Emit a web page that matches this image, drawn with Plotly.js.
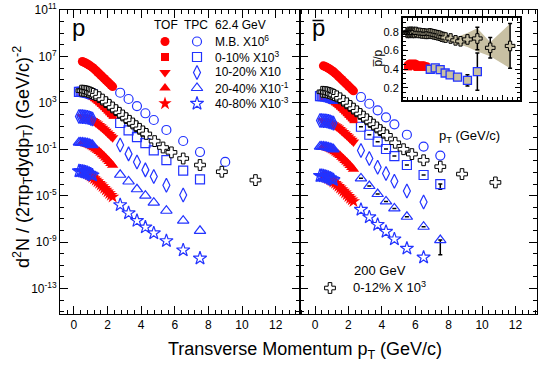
<!DOCTYPE html>
<html><head><meta charset="utf-8">
<script src="https://cdn.plot.ly/plotly-3.0.1.min.js"></script>
<style>html,body{margin:0;padding:0;background:#fff}#chart{width:540px;height:368px}</style>
</head><body><div id="chart"></div>
<script>
// ---------------- DATA (log10 of yields) ----------------
const pTtof  = [0.5,0.6,0.7,0.8,0.9,1.0,1.1,1.2,1.3,1.4,1.5,1.6,1.7,1.8,1.9,2.0,2.1,2.2,2.3];
const pTlow  = [0.3,0.4,0.5,0.6,0.7,0.8,0.9,1.0,1.1];
const pTtpc  = [2.75,3.25,3.75,4.25,4.75,5.5,6.5,7.5,9.0];
const pT200  = [0.45,0.55,0.65,0.75,0.85,0.95,1.05,1.15,1.3,1.5,1.7,1.9,2.1,2.3,2.5,2.7,2.9,3.1,3.3,3.5,3.7,3.9,4.1,4.3,4.8,5.3,5.8,6.5,7.5,8.8,10.8];

const centralities = ['M.B.','0-10%','10-20%','20-40%','40-80%'];
const scaleLabels  = ['X10<sup>6</sup>','X10<sup>3</sup>','X10','X10<sup>-1</sup>','X10<sup>-3</sup>'];

// proton, 62.4 GeV
const p_MB_tof  = [6.56,6.50,6.43,6.35,6.26,6.16,6.05,5.93,5.80,5.66,5.52,5.38,5.24,5.10,4.96,4.82,4.68,4.54,4.40];
const p_MB_tpc  = [3.87,3.33,2.72,2.10,1.52,0.66,-0.29,-1.24,-2.09];
const p_C0_tof  = [3.93,3.91,3.87,3.82,3.75,3.67,3.58,3.48,3.37,3.25,3.12,2.99,2.85,2.71,2.56,2.41,2.26,2.11,1.96];
const p_C0_low  = [3.95,3.95,3.94,3.92,3.90,3.87,3.83,3.78,3.72];
const p_C0_tpc  = [1.26,0.62,0.05,-0.47,-1.10,-1.93,-2.85,-3.60];
const p_C10_tof = [1.80,1.77,1.73,1.68,1.62,1.55,1.47,1.38,1.28,1.17,1.05,0.93,0.80,0.67,0.54,0.41,0.27,0.13,0.00];
const p_C10_low = [1.82,1.82,1.81,1.80,1.78,1.75,1.71,1.66,1.60];
const p_C10_tpc = [-0.64,-1.40,-2.10,-2.78,-3.35,-4.10,-4.95];
const p_C20_tof = [-0.45,-0.48,-0.52,-0.57,-0.63,-0.70,-0.78,-0.87,-0.97,-1.08,-1.20,-1.33,-1.47,-1.61,-1.76,-1.91,-2.06,-2.22,-2.38];
const p_C20_low = [-0.42,-0.42,-0.43,-0.45,-0.47,-0.50,-0.54,-0.59,-0.65];
const p_C20_tpc = [-3.20,-3.78,-4.45,-5.00,-5.60,-6.30,-7.16,-8.03];
const p_C40_tof = [-2.90,-2.95,-3.02,-3.10,-3.19,-3.29,-3.40,-3.52,-3.65,-3.78,-3.92,-4.06,-4.20,-4.35,-4.50,-4.65,-4.80,-4.95,-5.10];
const p_C40_low = [-2.88,-2.89,-2.91,-2.94,-2.98,-3.03,-3.09,-3.16,-3.24];
const p_C40_tpc = [-5.80,-6.50,-7.16,-7.72,-8.23,-8.90,-9.70,-10.40];

// antiproton, 62.4 GeV
const pb_MB_tof  = [6.19,6.13,6.06,5.98,5.89,5.79,5.68,5.56,5.43,5.29,5.15,5.01,4.87,4.73,4.59,4.45,4.31,4.17,4.03];
const pb_MB_tpc  = [3.50,2.92,2.35,1.75,1.15,0.25,-0.77,-1.55];
const pb_C0_tof  = [3.56,3.54,3.50,3.45,3.38,3.30,3.21,3.11,3.00,2.88,2.75,2.62,2.48,2.34,2.19,2.04,1.89,1.74,1.59];
const pb_C0_low  = [3.58,3.58,3.57,3.55,3.53,3.50,3.46,3.41,3.35];
const pb_C0_tpc  = [0.94,0.25,-0.35,-0.98,-1.59,-2.36,-3.22,-4.00];
const pb_C0_lo   = [null,null,null,null,null,null,null,-4.45];
const pb_C10_tof = [1.45,1.42,1.38,1.33,1.27,1.20,1.12,1.03,0.93,0.82,0.70,0.58,0.45,0.32,0.19,0.05,-0.09,-0.23,-0.37];
const pb_C10_low = [1.47,1.47,1.46,1.45,1.43,1.40,1.36,1.31,1.25];
const pb_C10_tpc = [-1.10,-1.80,-2.55,-3.10,-3.75,-4.60,-5.55];
const pb_C20_tof = [-0.80,-0.83,-0.87,-0.92,-0.98,-1.05,-1.13,-1.22,-1.32,-1.43,-1.55,-1.68,-1.82,-1.96,-2.11,-2.26,-2.41,-2.57,-2.73];
const pb_C20_low = [-0.77,-0.77,-0.78,-0.80,-0.82,-0.85,-0.89,-0.94,-1.00];
const pb_C20_tpc = [-3.51,-4.17,-4.86,-5.50,-6.10,-6.82,-7.68,-8.83];
const pb_C20_lo  = [null,null,null,null,null,null,null,-10.1];
const pb_C40_tof = [-3.30,-3.35,-3.42,-3.50,-3.59,-3.69,-3.80,-3.92,-4.05,-4.18,-4.32,-4.46,-4.60,-4.75,-4.90,-5.05,-5.20,-5.35,-5.50];
const pb_C40_low = [-3.28,-3.29,-3.31,-3.34,-3.38,-3.43,-3.49,-3.56,-3.64];
const pb_C40_tpc = [-6.20,-6.85,-7.50,-8.10,-8.75,-9.55,-10.32];

// 200 GeV 0-12% X10^3
const p200  = [4.05,4.04,4.02,3.99,3.95,3.90,3.84,3.77,3.66,3.49,3.28,3.06,2.83,2.60,2.37,2.14,1.91,1.68,1.45,1.22,0.99,0.76,0.54,0.32,-0.30,-0.85,-1.27,-1.80,-2.36,-2.94,-3.66];
const pb200 = [3.95,3.94,3.92,3.89,3.85,3.80,3.74,3.67,3.56,3.39,3.18,2.96,2.73,2.50,2.27,2.04,1.81,1.58,1.35,1.12,0.88,0.65,0.42,0.20,-0.44,-1.00,-1.42,-1.95,-2.50,-3.14,-3.86];

// inset: pbar/p ratios
const ratio200    = [0.79,0.80,0.79,0.80,0.80,0.79,0.80,0.79,0.80,0.79,0.79,0.785,0.785,0.78,0.78,0.785,0.78,0.775,0.77,0.765,0.76,0.75,0.745,0.74,0.73,0.71,0.70,0.72,0.73,0.63,0.65];
const ratio200Err = [0,0,0,0,0,0,0,0,0,0,0,0,0,0,0,0,0,0,0,0,0,0,0,0,0.01,0.015,0.02,0.025,0.12,0.11,0.24];
const bandX  = [5.3,5.8,6.5,7.5,8.8,10.8];
const bandHi = [0.74,0.76,0.79,0.84,0.69,0.89];
const bandLo = [0.68,0.66,0.64,0.59,0.54,0.41];
const ratio62tof = [0.43,0.44,0.45,0.455,0.46,0.46,0.455,0.45,0.44,0.43,0.425,0.43,0.44,0.44,0.44,0.435,0.43,0.43,0.425];
const ratio62tpc = [0.40,0.415,0.395,0.36,0.34,0.315,0.28,0.375];
const ratio62Err = [0.015,0.015,0.015,0.015,0.015,0.02,0.06,0.2];

// axis ticks
const xTickVals = [0,2,4,6,8,10,12];
const yTickExp  = [11,7,3,-1,-5,-9,-13];
const yMinorExp = [11,10,9,8,7,6,5,4,3,2,1,0,-1,-2,-3,-4,-5,-6,-7,-8,-9,-10,-11,-12,-13,-14,-15];

// ---------------- STYLE / LAYOUT ----------------
const FONT = 'Liberation Sans, Arial, Helvetica, sans-serif';
const W = 540, H = 368, ML = 60, MR = 3, MT = 10, MB = 54;
const PW = W - ML - MR, PH = H - MT - MB;
const px2x = x => (x - ML) / PW, px2y = y => (H - MB - y) / PH;
const SPLIT = 300;
const RED = '#ff0000', BLUE = '#2233ff', TAN = 'rgb(200,192,163)';
const tofSym = ['circle','square','triangle-down','triangle-up','star'];
const tpcSym = ['circle-open','square-open','diamond-tall-open','triangle-up-open','star-open'];
const tofSize = [9,8,10,10,10];
const tpcSize = [9,9,10,10,10];

const pow10 = a => a.map(v => Math.pow(10, v));

const traces = [];
function addPanel(xa, ya, sets, s200) {
  sets.forEach((s, i) => {
    const vals = pow10(s.tpc);
    const t = {x: pTtpc.slice(0, s.tpc.length), y: vals, xaxis: xa, yaxis: ya, mode: 'markers', type: 'scatter',
      marker: {symbol: tpcSym[i], size: tpcSize[i], color: BLUE, line: {color: BLUE, width: 1.2}}, hoverinfo: 'skip'};
    if (s.lo) {
      t.error_y = {type: 'data', symmetric: false, array: vals.map(() => 0),
        arrayminus: vals.map((v, k) => s.lo[k] == null ? 0 : v - Math.pow(10, s.lo[k])),
        color: 'black', thickness: 1.5, width: 2};
    }
    traces.push(t);
  });
  sets.forEach((s, i) => {
    traces.push({x: pTtof, y: pow10(s.tof), xaxis: xa, yaxis: ya, mode: 'markers', type: 'scatter',
      marker: {symbol: tofSym[i], size: tofSize[i], color: RED, line: {width: 0}}, hoverinfo: 'skip'});
  });
  sets.forEach((s, i) => {
    if (!s.low) return;
    traces.push({x: pTlow, y: pow10(s.low), xaxis: xa, yaxis: ya, mode: 'markers', type: 'scatter',
      marker: {symbol: tpcSym[i], size: tpcSize[i], color: BLUE, line: {color: BLUE, width: 1.3}}, hoverinfo: 'skip'});
  });
  traces.push({x: pT200, y: pow10(s200), xaxis: xa, yaxis: ya, mode: 'markers', type: 'scatter',
    marker: {symbol: 'cross', size: 9, color: 'white', line: {color: 'black', width: 1}}, hoverinfo: 'skip'});
}

addPanel('x', 'y', [
  {tof: p_MB_tof, low: null, tpc: p_MB_tpc},
  {tof: p_C0_tof, low: p_C0_low, tpc: p_C0_tpc},
  {tof: p_C10_tof, low: p_C10_low, tpc: p_C10_tpc},
  {tof: p_C20_tof, low: p_C20_low, tpc: p_C20_tpc},
  {tof: p_C40_tof, low: p_C40_low, tpc: p_C40_tpc}], p200);

addPanel('x2', 'y2', [
  {tof: pb_MB_tof, low: null, tpc: pb_MB_tpc},
  {tof: pb_C0_tof, low: pb_C0_low, tpc: pb_C0_tpc, lo: pb_C0_lo},
  {tof: pb_C10_tof, low: pb_C10_low, tpc: pb_C10_tpc},
  {tof: pb_C20_tof, low: pb_C20_low, tpc: pb_C20_tpc, lo: pb_C20_lo},
  {tof: pb_C40_tof, low: pb_C40_low, tpc: pb_C40_tpc}], pb200);

// inset
traces.push({x: bandX.concat(bandX.slice().reverse()), y: bandHi.concat(bandLo.slice().reverse()),
  xaxis: 'x3', yaxis: 'y3', type: 'scatter', mode: 'lines', fill: 'toself', fillcolor: TAN,
  line: {width: 0, color: TAN}, hoverinfo: 'skip'});
traces.push({x: pT200, y: ratio200, xaxis: 'x3', yaxis: 'y3', type: 'scatter', mode: 'markers',
  marker: {symbol: 'cross', size: 8, color: TAN, line: {color: 'black', width: 1}},
  error_y: {type: 'data', array: ratio200Err, color: 'black', thickness: 1.5, width: 2}, hoverinfo: 'skip'});
traces.push({x: pTtof, y: ratio62tof, xaxis: 'x3', yaxis: 'y3', type: 'scatter', mode: 'markers',
  marker: {symbol: 'square', size: 8, color: RED, line: {width: 0}}, hoverinfo: 'skip'});
traces.push({x: pTtpc.slice(0, ratio62tpc.length), y: ratio62tpc, xaxis: 'x3', yaxis: 'y3', type: 'scatter', mode: 'markers',
  marker: {symbol: 'square', size: 8, color: TAN, line: {color: BLUE, width: 1.3}},
  error_y: {type: 'data', array: ratio62Err, color: 'black', thickness: 1.5, width: 2}, hoverinfo: 'skip'});

// legend swatches drawn on a pixel-space overlay axis
const legY = [41.5, 57, 72.5, 88, 103.5], legTofX = 165, legTpcX = 197;
centralities.forEach((c, i) => {
  traces.push({x: [legTofX], y: [legY[i]], xaxis: 'x4', yaxis: 'y4', type: 'scatter', mode: 'markers',
    marker: {symbol: tofSym[i], size: tofSize[i], color: RED, line: {width: 0}}, hoverinfo: 'skip'});
  traces.push({x: [legTpcX], y: [legY[i]], xaxis: 'x4', yaxis: 'y4', type: 'scatter', mode: 'markers',
    marker: {symbol: tpcSym[i], size: tpcSize[i], color: BLUE, line: {color: BLUE, width: 1.2}}, hoverinfo: 'skip'});
});
traces.push({x: [330], y: [288], xaxis: 'x4', yaxis: 'y4', type: 'scatter', mode: 'markers',
  marker: {symbol: 'cross', size: 9, color: 'white', line: {color: 'black', width: 1}}, hoverinfo: 'skip'});

const frame = {showline: true, linecolor: 'black', linewidth: 1, mirror: 'ticks', ticks: 'inside',
  ticklen: 8, tickwidth: 1, tickcolor: 'black', showgrid: false, zeroline: false,
  tickfont: {family: FONT, size: 12, color: 'black'}};
const xMinor = {dtick: 0.4, tick0: 0, ticklen: 4, ticks: 'inside', tickcolor: 'black', tickwidth: 1};
const yMinor = {tickmode: 'array', tickvals: yMinorExp.map(e => Math.pow(10, e)), ticklen: 4, ticks: 'inside', tickcolor: 'black', tickwidth: 1};
const yTickVals = yTickExp.map(e => Math.pow(10, e));
const yTickText = yTickExp.map(e => '10<sup>' + e + '</sup>');

const ann = (x, y, text, size, opts) => Object.assign({xref: 'paper', yref: 'paper', x: px2x(x), y: px2y(y),
  text: text, showarrow: false, xanchor: 'center', yanchor: 'middle',
  font: {family: FONT, size: size, color: 'black'}}, opts || {});

const annotations = [
  ann(78, 27, 'p', 24),
  ann(318, 27, 'p', 24),
  ann(166, 25, 'TOF', 12),
  ann(196, 25, 'TPC', 12),
  ann(213, 25, '62.4 GeV', 12, {xanchor: 'left'}),
  ann(437, 136, 'p<sub>T</sub> (GeV/c)', 13, {xanchor: 'left'}),
  ann(380, 270, '200 GeV', 13),
  ann(351, 287, '0-12% X 10<sup>3</sup>', 13, {xanchor: 'left'}),
  ann(305, 350, 'Transverse Momentum p<sub>T</sub> (GeV/c)', 18),
  ann(22, 157, 'd<sup>2</sup>N / (2\u03c0p<sub>T</sub>dydp<sub>T</sub>) (GeV/c)<sup>-2</sup>', 18, {textangle: -90}),
  ann(378, 59, 'p\u0305/p', 12, {textangle: -90})
];
centralities.forEach((c, i) => annotations.push(ann(213, legY[i], c + ' ' + scaleLabels[i], 12, {xanchor: 'left'})));

const layout = {
  width: W, height: H, margin: {l: ML, r: MR, t: MT, b: MB, pad: 0},
  paper_bgcolor: 'white', plot_bgcolor: 'rgba(0,0,0,0)', showlegend: false,
  font: {family: FONT, size: 12, color: 'black'},
  xaxis: Object.assign({}, frame, {domain: [0, px2x(SPLIT)], range: [-0.83, 13.45], anchor: 'y',
    tickvals: xTickVals, minor: xMinor}),
  xaxis2: Object.assign({}, frame, {domain: [px2x(SPLIT), 1], range: [-0.9, 13.29], anchor: 'y2',
    tickvals: xTickVals, minor: xMinor}),
  yaxis: Object.assign({}, frame, {type: 'log', range: [-15.2, 11], anchor: 'x',
    tickvals: yTickVals, ticktext: yTickText, minor: yMinor}),
  yaxis2: Object.assign({}, frame, {type: 'log', range: [-15.2, 11], anchor: 'x2',
    tickvals: yTickVals, showticklabels: false, minor: yMinor}),
  xaxis3: Object.assign({}, frame, {domain: [px2x(403), px2x(520)], range: [0, 11.8], anchor: 'y3',
    linewidth: 2, ticklen: 5, dtick: 2, tick0: 0, showticklabels: false,
    minor: {dtick: 0.5, tick0: 0, ticklen: 3, ticks: 'inside', tickcolor: 'black'}}),
  yaxis3: Object.assign({}, frame, {domain: [px2y(100), px2y(18)], range: [0.07, 0.95], anchor: 'x3',
    linewidth: 2, ticklen: 5, tickvals: [0.2, 0.4, 0.6, 0.8], ticktext: ['0.2', '0.4', '0.6', '0.8'],
    tickfont: {family: FONT, size: 11, color: 'black'},
    minor: {dtick: 0.05, tick0: 0, ticklen: 3, ticks: 'inside', tickcolor: 'black'}}),
  xaxis4: {domain: [0, 1], range: [ML, W - MR], anchor: 'y4', visible: false, fixedrange: true},
  yaxis4: {domain: [0, 1], range: [H - MB, MT], anchor: 'x4', visible: false, fixedrange: true},
  annotations: annotations,
  shapes: [{type: 'line', xref: 'paper', yref: 'paper', x0: px2x(312.5), x1: px2x(323.5),
    y0: px2y(20.5), y1: px2y(20.5), line: {color: 'black', width: 1.5}}]
};

Plotly.newPlot('chart', traces, layout, {displayModeBar: false, staticPlot: true});
</script></body></html>
